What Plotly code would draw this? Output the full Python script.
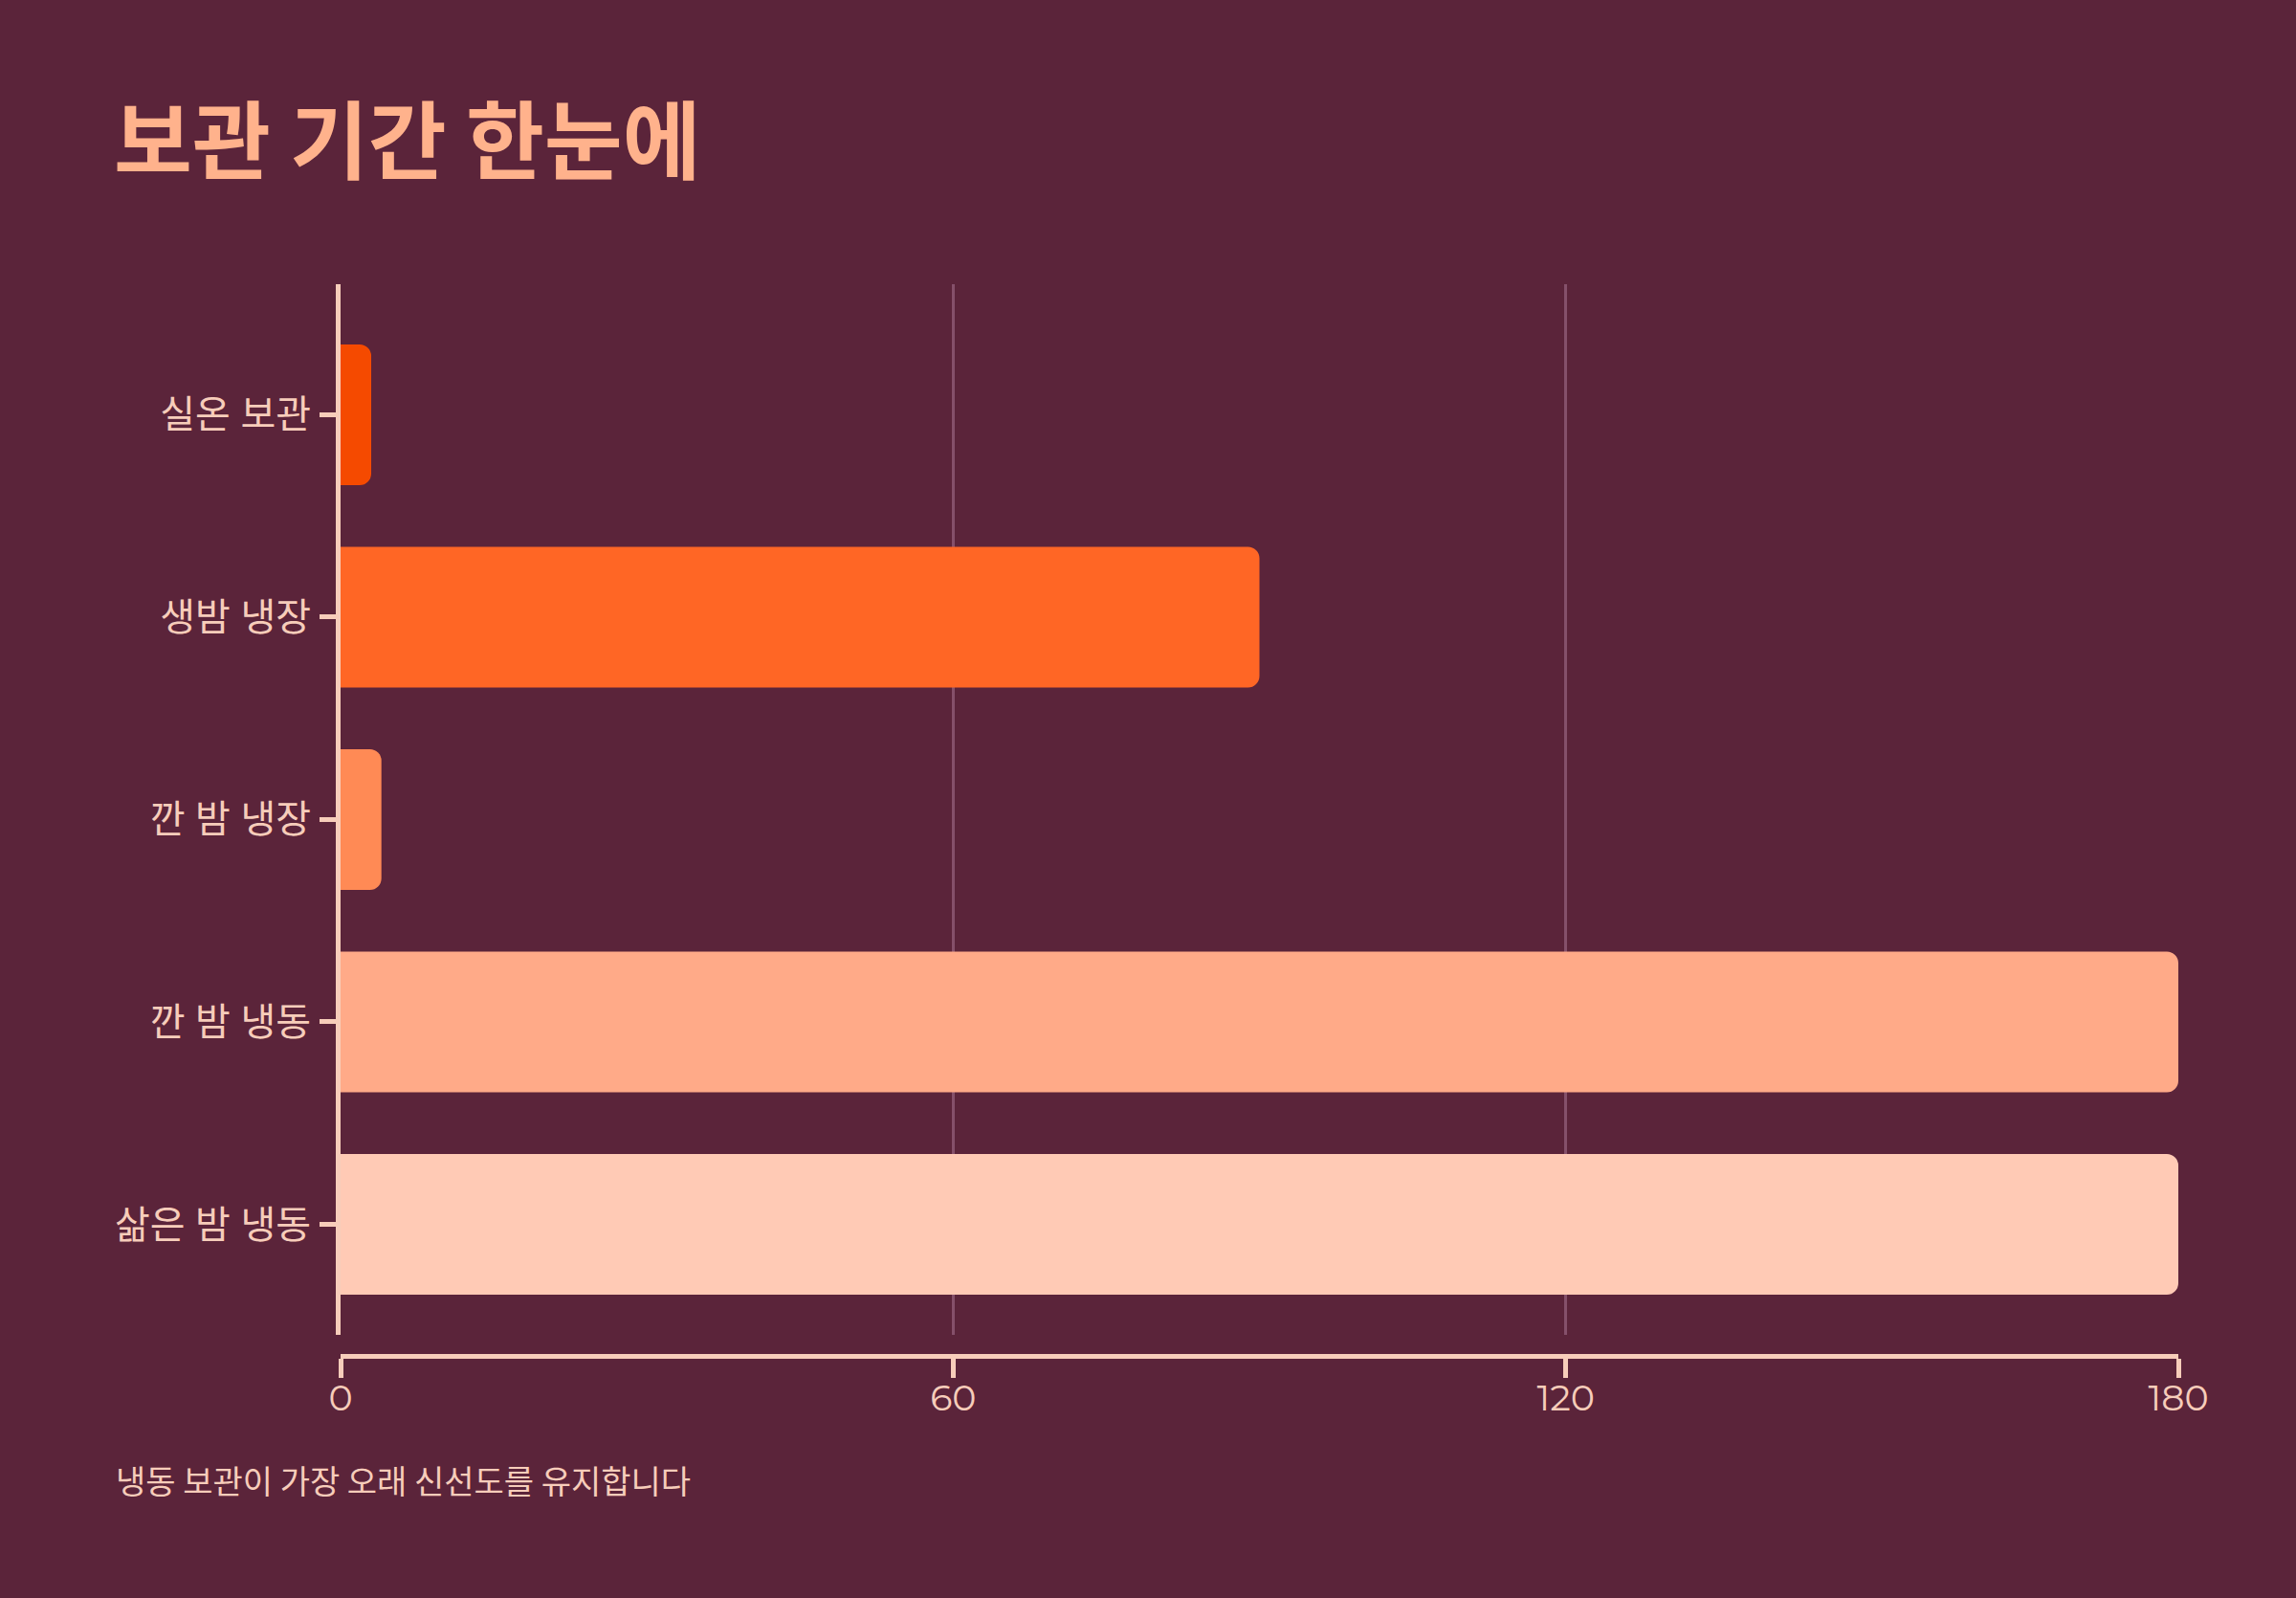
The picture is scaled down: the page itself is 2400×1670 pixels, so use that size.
import plotly.graph_objects as go

# 보관 방법별 보관 기간 (일)
methods = ['실온 보관', '생밤 냉장', '깐 밤 냉장', '깐 밤 냉동', '삶은 밤 냉동']
days = [3, 90, 4, 180, 180]
bar_colors = ['#F54A00', '#FF6625', '#FF8A55', '#FFAA88', '#FFCAB5']
x_ticks = [0, 60, 120, 180]

BG = '#5B243A'
PEACH = '#F7CDBA'
FONT = 'Montserrat, Inter, Noto Sans CJK KR, sans-serif'

W, H = 2400, 1670
L, R, T, B = 356, 123, 297, 253
plot_h = H - T - B  # 1120
grid_bottom = 1395


def px_to_paper(px, py):
    return (px - L) / (W - L - R), (H - B - py) / plot_h


fig = go.Figure()
fig.add_trace(go.Bar(
    x=days,
    y=methods,
    orientation='h',
    marker=dict(color=bar_colors, cornerradius=12, line=dict(width=0)),
    hoverinfo='x+y',
    showlegend=False,
))

fig.update_layout(
    width=W, height=H,
    paper_bgcolor=BG, plot_bgcolor=BG,
    margin=dict(l=L, r=R, t=T, b=B, pad=0),
    bargap=0.305,
    font=dict(family=FONT, color=PEACH),
    xaxis=dict(
        range=[0, 180], tickvals=x_ticks, ticktext=[str(v) for v in x_ticks],
        anchor='free', position=0,
        showline=True, linecolor=PEACH, linewidth=5,
        ticks='outside', ticklen=20, tickwidth=5, tickcolor=PEACH,
        tickfont=dict(size=38, color=PEACH),
        ticklabelstandoff=-12,
        showgrid=True, gridcolor='#85506A', gridwidth=2.5,
        zeroline=False, fixedrange=True,
    ),
    yaxis=dict(
        domain=[(H - B - grid_bottom) / plot_h, 1],
        range=[4.546, -0.645],
        showline=True, linecolor=PEACH, linewidth=5,
        ticks='outside', ticklen=17, tickwidth=5, tickcolor=PEACH,
        tickfont=dict(size=40, color=PEACH),
        ticklabelstandoff=1,
        showgrid=False, zeroline=False,
    ),
    yaxis2=dict(
        domain=[0, 1], anchor='free', position=0,
        showline=True, linecolor=PEACH, linewidth=5,
        showticklabels=False, ticks='', showgrid=False, zeroline=False,
    ),
)

tx, ty = px_to_paper(117, 141)
cx, cy = px_to_paper(119, 1546)
fig.add_annotation(
    x=tx, y=ty, xref='paper', yref='paper', xanchor='left', yanchor='middle',
    text='보관 기간 한눈에', showarrow=False,
    font=dict(family='Noto Sans CJK KR', size=89, color='#FFB28C', weight='bold'),
)
fig.add_annotation(
    x=cx, y=cy, xref='paper', yref='paper', xanchor='left', yanchor='middle',
    text='냉동 보관이 가장 오래 신선도를 유지합니다', showarrow=False,
    font=dict(family='Noto Sans CJK KR', size=34, color=PEACH),
)

fig.write_html('out.html', config={'displayModeBar': False},
               post_script="document.body.style.margin='0';")
